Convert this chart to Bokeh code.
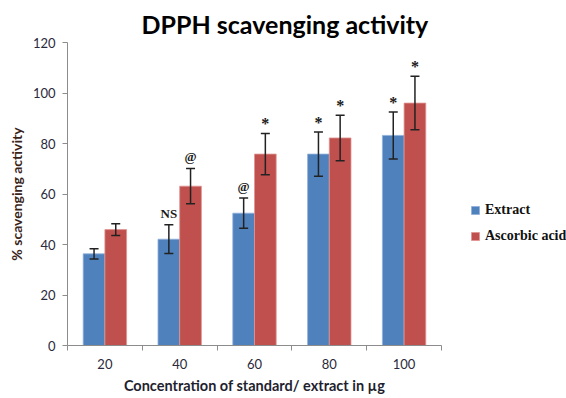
from bokeh.plotting import figure
from bokeh.models import ColumnDataSource, Whisker, TeeHead, FixedTicker, Legend, LegendItem
from bokeh.core.properties import value
from bokeh.embed import file_html
from bokeh.resources import INLINE

categories = ["20", "40", "60", "80", "100"]
extract = [36.3, 42.1, 52.4, 75.8, 83.2]
extract_err = [2.0, 5.7, 6.0, 8.8, 9.3]
ascorbic = [45.9, 63.1, 75.8, 82.2, 96.0]
ascorbic_err = [2.3, 7.0, 8.2, 9.0, 10.6]
extract_marks = ["", "NS", "@", "*", "*"]
ascorbic_marks = ["", "@", "*", "*", "*"]
y_ticks = [0, 20, 40, 60, 80, 100, 120]

BLUE = "#4F81BD"
RED = "#C0504D"
W = 0.29

xs = list(range(1, len(categories) + 1))


def make_source(xpos, vals, errs, marks):
    return ColumnDataSource(dict(
        x=xpos, top=vals,
        upper=[a + b for a, b in zip(vals, errs)],
        lower=[a - b for a, b in zip(vals, errs)],
        mark=marks,
        size=["16px" if m == "*" else "13px" for m in marks],
        yoff=[-1 if m == "*" else -4 for m in marks]))


src_e = make_source([v - W / 2 for v in xs], extract, extract_err, extract_marks)
src_a = make_source([v + W / 2 for v in xs], ascorbic, ascorbic_err, ascorbic_marks)

p = figure(frame_width=374, frame_height=303, output_backend="svg", toolbar_location=None,
           x_range=(0.5, len(categories) + 0.5), y_range=(0, 120),
           min_border_left=67, min_border_right=125, min_border_top=42, min_border_bottom=53,
           title="DPPH scavenging activity")
p.outline_line_color = None
p.background_fill_color = "white"
p.border_fill_color = "white"
p.grid.visible = False

p.title.align = "left"
p.title.offset = 74
p.title.text_font = "Lato"
p.title.text_font_style = "bold"
p.title.text_font_size = "25px"
p.title.text_color = "black"
p.title.standoff = 7

r_e = p.vbar(x="x", top="top", width=W, source=src_e, fill_color=BLUE, line_color="#8FAEDB", line_width=0.8)
r_a = p.vbar(x="x", top="top", width=W, source=src_a, fill_color=RED, line_color="#DE9492", line_width=0.8)

for src in (src_e, src_a):
    wk = Whisker(source=src, base="x", upper="upper", lower="lower", line_color="#222222", line_width=1.5,
                 upper_head=TeeHead(size=9, line_color="#222222", line_width=1.5),
                 lower_head=TeeHead(size=9, line_color="#222222", line_width=1.5),
                 level="overlay")
    p.add_layout(wk)
    p.text(x="x", y="upper", text="mark", source=src, text_align="center", text_baseline="bottom",
           y_offset="yoff", text_font=value("Liberation Serif"), text_font_style="bold",
           text_font_size="size", text_color="#1a1a1a")

# axes
xa = p.xaxis[0]
xa.ticker = FixedTicker(ticks=xs, minor_ticks=[v + 0.5 for v in [0] + xs])
xa.major_label_overrides = {v: c for v, c in zip(xs, categories)}
xa.major_tick_out = 0
xa.major_tick_in = 0
xa.minor_tick_out = 5
xa.minor_tick_in = 0
xa.axis_line_color = "#8c8c8c"
xa.minor_tick_line_color = "#8c8c8c"
xa.axis_label = "Concentration of standard/ extract in µg"
xa.major_label_standoff = 8

ya = p.yaxis[0]
ya.ticker = FixedTicker(ticks=y_ticks)
ya.minor_tick_line_color = None
ya.major_tick_out = 5
ya.major_tick_in = 0
ya.axis_line_color = "#8c8c8c"
ya.major_tick_line_color = "#8c8c8c"
ya.axis_label = "% scavenging activity"
ya.major_label_standoff = 7

for ax in (xa, ya):
    ax.major_label_text_font = "Lato"
    ax.major_label_text_font_size = "13px"
    ax.major_label_text_color = "#2a2a3a"
    ax.axis_label_text_font = "Lato"
    ax.axis_label_text_font_style = "bold"
    ax.axis_label_standoff = 5
xa.axis_label_text_font_size = "14.5px"
ya.axis_label_text_font_size = "14px"
xa.axis_label_text_color = "#1f1f2f"
ya.axis_label_text_color = "#3a2418"

legend = Legend(items=[LegendItem(label="Extract", renderers=[r_e]),
                       LegendItem(label="Ascorbic acid", renderers=[r_a])],
                location=(29, 101), orientation="vertical")
legend.border_line_color = None
legend.background_fill_alpha = 0
legend.label_text_font = "Liberation Serif"
legend.label_text_font_style = "bold"
legend.label_text_font_size = "14px"
legend.label_text_color = "#111111"
legend.glyph_width = 10
legend.glyph_height = 10
legend.label_standoff = 5
legend.spacing = 10
legend.padding = 5
legend.margin = 0
p.add_layout(legend, "right")

open("out.html", "w").write(file_html(p, INLINE))
